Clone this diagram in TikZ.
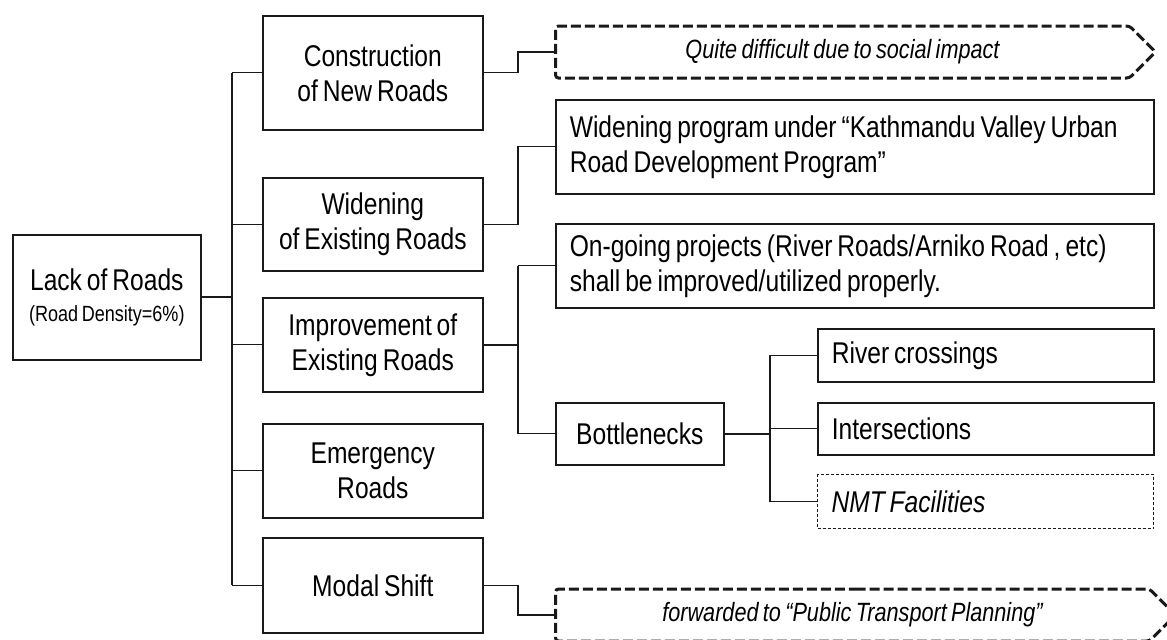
\documentclass[tikz,border=0pt]{standalone}
\usepackage{fontspec}
\setmainfont{Liberation Sans}[FakeStretch=0.82,WordSpace=0.72]
\usepackage{xcolor}
\definecolor{ink}{HTML}{1A1A1A}
\usetikzlibrary{shapes.symbols,positioning,calc}
\tikzset{
  box/.style    ={draw=ink,fill=white,line width=0.8pt,inner sep=0pt,
                  font=\fontsize{15}{17.5}\selectfont,align=center,
                  anchor=north west,
                  execute at begin node={\spaceskip=0pt\xspaceskip=0pt\relax}},
  note/.style   ={box,align=left,inner xsep=7pt},
  nmtbox/.style ={note,line width=0.5pt,dash pattern=on 1.5pt off 1pt,
                  font=\fontsize{15}{17.5}\selectfont\itshape},
  arrowbox/.style={draw=ink,line width=1.5pt,dash pattern=on 5pt off 2pt,
                  shape=signal,signal to=east,signal pointer angle=90,
                  rounded corners=1.5pt,minimum height=26pt,inner sep=0pt,
                  font=\fontsize{13.2}{16}\selectfont\itshape,anchor=west},
  conn/.style   ={draw=ink,line width=0.6pt},
  bold/.style   ={draw=ink,line width=1.1pt},
}

\begin{document}
\begin{tikzpicture}[x=0.5pt,y=-0.5pt]
\useasboundingbox (0,0) rectangle (1167,639);
% ---- root
\node[box,minimum width=94pt,minimum height=62.5pt] (lack) at (12,234)
 {Lack of Roads\\[-2pt]{\fontsize{11}{13}\selectfont(Road Density=6\%)}};

% ---- first level
\node[box,minimum width=110pt,minimum height=57pt]   (cons) at (262,15)  {Construction\\of New Roads};
\node[box,minimum width=110pt,minimum height=46.5pt] (wide) at (262,177) {Widening\\of Existing Roads};
\node[box,minimum width=110pt,minimum height=47pt]   (impr) at (262,297) {Improvement of\\Existing Roads};
\node[box,minimum width=110pt,minimum height=47pt]   (emer) at (262,423) {Emergency\\Roads};
\node[box,minimum width=110pt,minimum height=47.5pt] (moda) at (262,537) {Modal Shift};

% ---- second level
\node[arrowbox,minimum width=300pt] (quite) at (554,52) {Quite difficult due to social impact};
\node[note,minimum width=299pt,minimum height=47pt,text width=285pt] (widp) at (555,99)
 {Widening program under “Kathmandu Valley Urban\\Road Development Program”};
\node[note,minimum width=299pt,minimum height=42pt,text width=285pt] (ongo) at (555,223)
 {On-going projects (River Roads/Arniko Road , etc)\\shall be improved/utilized properly.};
\node[box,minimum width=84pt,minimum height=31pt] (bott) at (555,402) {Bottlenecks};
\node[arrowbox,minimum width=310pt] (publ) at (554,615) {forwarded to “Public Transport Planning”};

% ---- bottleneck items
\node[note,minimum width=168pt,minimum height=26.5pt,text width=154pt] (rivr) at (817,328) {River crossings};
\node[note,minimum width=168pt,minimum height=26pt,text width=154pt]   (inte) at (817,402) {Intersections};
\node[nmtbox,minimum width=168pt,minimum height=27pt,text width=154pt] (nmt)  at (817,474) {NMT Facilities};

% ---- connectors
\coordinate (trunk) at (232,0);
\coordinate (fork)  at (518,0);
\coordinate (split) at (770,0);
\draw[bold] (lack.east) -- (lack.east -| trunk);
\draw[conn] (cons.west -| trunk) -- (moda.west -| trunk);
\foreach \n in {cons,wide,impr,emer,moda} \draw[conn] (\n.west -| trunk) -- (\n.west);

\draw[conn] (cons.east) -| (fork |- quite.west) -- (quite.west);
\draw[conn] (wide.east) -| (fork |- widp.west) -- (widp.west);
\draw[bold] (impr.east) -- (impr.east -| fork);
\draw[conn] (fork |- ongo.west) -- (fork |- bott.west);
\foreach \n in {ongo,bott} \draw[conn] (fork |- \n.west) -- (\n.west);
\draw[conn] (moda.east) -| (fork |- publ.west) -- (publ.west);

\draw[bold] (bott.east) -- (bott.east -| split);
\draw[conn] (split |- rivr.west) -- (split |- nmt.west);
\foreach \n in {rivr,inte,nmt} \draw[conn] (split |- \n.west) -- (\n.west);
\end{tikzpicture}
\end{document}
